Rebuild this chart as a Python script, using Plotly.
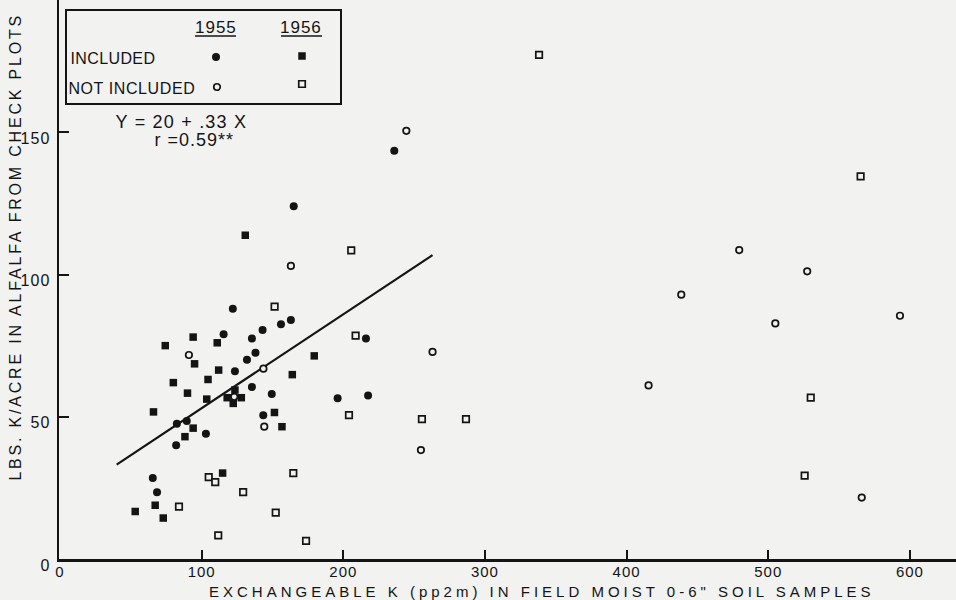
import json
import plotly.graph_objects as go

# ---------------- data ----------------
# 1955, included (filled circles)
inc55_x = [122, 163, 156, 143, 115.5, 135.5, 138, 132, 123.5, 135.5, 149.5, 89.5,
           82.5, 143.5, 103, 82, 65.5, 68.5, 216, 196, 217.5, 236, 165]
inc55_y = [88, 84, 82.5, 80.5, 79, 77.5, 72.5, 70, 66, 60.5, 58, 48.5,
           47.5, 50.5, 44, 40, 28.5, 23.5, 77.5, 56.5, 57.5, 143.5, 124]
# 1956, included (filled squares)
inc56_x = [94, 111, 74.3, 95, 112, 164, 104.5, 80, 90, 118, 123.5, 128, 122.3,
           103.6, 66, 151.4, 94, 156.7, 88.2, 114.8, 67.2, 53.1, 72.9, 179.5, 130.8]
inc56_y = [78, 76, 75, 68.6, 66.4, 64.8, 63.1, 62, 58.3, 56.7, 59.4, 56.7, 54.7,
           56.2, 51.7, 51.5, 46, 46.5, 43, 30.2, 18.9, 16.7, 14.4, 71.4, 113.8]
# 1955, not included (open circles)
not55_x = [91, 143.6, 123, 144.2, 244.5, 163, 263, 254.8, 479.5, 527.5, 438.6,
           505, 593, 415.5, 566]
not55_y = [71.7, 66.9, 57, 46.5, 150.5, 103, 72.8, 38.3, 108.6, 101.1, 92.9,
           82.8, 85.5, 61, 21.6]
# 1956, not included (open squares)
not56_x = [151.5, 208.7, 204, 255.5, 286.6, 105, 109.6, 164.7, 129.3, 84, 152.3,
           111.7, 173.7, 338.2, 205.6, 565.2, 530, 525.7]
not56_y = [88.7, 78.5, 50.6, 49.2, 49.2, 28.8, 27, 30.2, 23.5, 18.4, 16.3,
           8.3, 6.4, 177.2, 108.5, 134.5, 56.7, 29.3]

# regression line Y = 20 + .33 X, drawn between the x ends seen in the chart
reg_intercept = 20
reg_slope = 0.33
reg_x = [40, 263]

x_tickvals = [0, 100, 200, 300, 400, 500, 600]
y_tickvals = [0, 50, 100, 150]

x_title = 'EXCHANGEABLE K (pp2m) IN FIELD MOIST 0-6" SOIL SAMPLES'
y_title = "LBS. K/ACRE IN ALFALFA FROM CHECK PLOTS"
legend_years = ["1955", "1956"]
legend_rows = ["INCLUDED", "NOT INCLUDED"]
eq_text = "Y = 20 + .33 X"
r_text = "r =0.59**"

# ---------------- layout helpers ----------------
W, H = 956, 600
ML, MR, MT, MB = 59, 0, 0, 41
PW, PH = W - ML - MR, H - MT - MB
XPX = 1.4165   # px per x unit
YPX = 2.845    # px per y unit


def fx(px):
    return (px - ML) / PW


def fy(py):
    return (H - MB - py) / PH


BG = "#f2f2f0"
INK = "#141414"
FONT = "Liberation Sans"

fig = go.Figure()

reg_y = [reg_intercept + reg_slope * v for v in reg_x]
fig.add_trace(go.Scatter(x=reg_x, y=reg_y, mode="lines",
                         line=dict(color=INK, width=2.2), hoverinfo="skip"))
fig.add_trace(go.Scatter(x=inc55_x, y=inc55_y, mode="markers",
                         marker=dict(symbol="circle", size=8, color=INK)))
fig.add_trace(go.Scatter(x=inc56_x, y=inc56_y, mode="markers",
                         marker=dict(symbol="square", size=7.5, color=INK)))
fig.add_trace(go.Scatter(x=not55_x, y=not55_y, mode="markers",
                         marker=dict(symbol="circle", size=6.5, color=BG,
                                     line=dict(color=INK, width=1.7))))
fig.add_trace(go.Scatter(x=not56_x, y=not56_y, mode="markers",
                         marker=dict(symbol="square", size=6.5, color=BG,
                                     line=dict(color=INK, width=1.7))))

x0 = -1 / XPX
fig.update_xaxes(range=[x0, x0 + PW / XPX], showline=True, linewidth=2.5,
                 linecolor=INK, ticks="inside", ticklen=9, tickwidth=2,
                 tickcolor=INK, tickvals=x_tickvals, showgrid=False,
                 zeroline=False, tickfont=dict(family=FONT, size=15, color=INK),
                 ticklabelstandoff=-3, tickangle=0, automargin=False)
fig.update_yaxes(range=[0, PH / YPX], showline=True, linewidth=2.5,
                 linecolor=INK, ticks="inside", ticklen=10, tickwidth=2,
                 tickcolor=INK, tickvals=y_tickvals, showgrid=False,
                 zeroline=False, tickfont=dict(family=FONT, size=16, color=INK),
                 ticklabelstandoff=3, ticklabelshift=6, tickangle=0,
                 automargin=False)

annotations = []
spacing = []


def add_text(text, px, py, size=16, anchor="center", angle=0, sp=0.0):
    annotations.append(dict(text=text, x=fx(px), y=fy(py), xref="paper",
                            yref="paper", xanchor=anchor, yanchor="middle",
                            showarrow=False, textangle=angle,
                            font=dict(family=FONT, size=size, color=INK)))
    spacing.append(sp)


add_text(x_title, 542, 591, size=15, sp=4.0)
add_text(y_title, 15, 247, size=16, angle=-90, sp=2.8)
add_text(legend_years[0], 215.5, 28, size=17, sp=1.0)
add_text(legend_years[1], 301, 28, size=17, sp=1.0)
add_text(legend_rows[0], 70, 58, size=16, anchor="left", sp=0.4)
add_text(legend_rows[1], 70, 88, size=16, anchor="left", sp=0.6)
add_text(eq_text, 181, 122, size=18, sp=1.2)
add_text(r_text, 194, 140, size=18, sp=1.0)

shapes = [
    dict(type="rect", xref="paper", yref="paper", x0=fx(66), x1=fx(341),
         y0=fy(104), y1=fy(10), line=dict(color=INK, width=2)),
    dict(type="line", xref="paper", yref="paper", x0=fx(195), x1=fx(236),
         y0=fy(36), y1=fy(36), line=dict(color=INK, width=1.5)),
    dict(type="line", xref="paper", yref="paper", x0=fx(281), x1=fx(322),
         y0=fy(36), y1=fy(36), line=dict(color=INK, width=1.5)),
]


def sym(kind, px, py, r, filled):
    d = dict(type=kind, xref="paper", yref="paper", xsizemode="pixel",
             ysizemode="pixel", xanchor=fx(px), yanchor=fy(py),
             x0=-r, x1=r, y0=-r, y1=r,
             line=dict(color=INK, width=0 if filled else 1.7),
             fillcolor=INK if filled else BG)
    return d


shapes += [
    sym("circle", 216, 57, 4, True),
    sym("rect", 302, 56, 3.75, True),
    sym("circle", 217, 87, 3.25, False),
    sym("rect", 302, 84, 3.25, False),
]

fig.update_layout(width=W, height=H, margin=dict(l=ML, r=MR, t=MT, b=MB),
                  paper_bgcolor=BG, plot_bgcolor=BG, showlegend=False,
                  annotations=annotations, shapes=shapes,
                  font=dict(family=FONT, color=INK))

post = """
document.documentElement.style.margin = '0';
document.documentElement.style.background = '%s';
document.body.style.margin = '0';
document.body.style.overflow = 'hidden';
var sp = %s;
document.querySelectorAll('g.annotation').forEach(function(g){
  var i = parseInt(g.getAttribute('data-index'));
  var t = g.querySelector('text');
  if (t && sp[i]) { t.style.letterSpacing = sp[i] + 'px'; }
});
document.querySelectorAll('g.xtick text, g.ytick text').forEach(function(t){
  t.style.letterSpacing = '1px';
});
""" % (BG, json.dumps(spacing))

fig.write_html("out.html", post_script=post,
               config={"displayModeBar": False, "staticPlot": True})
